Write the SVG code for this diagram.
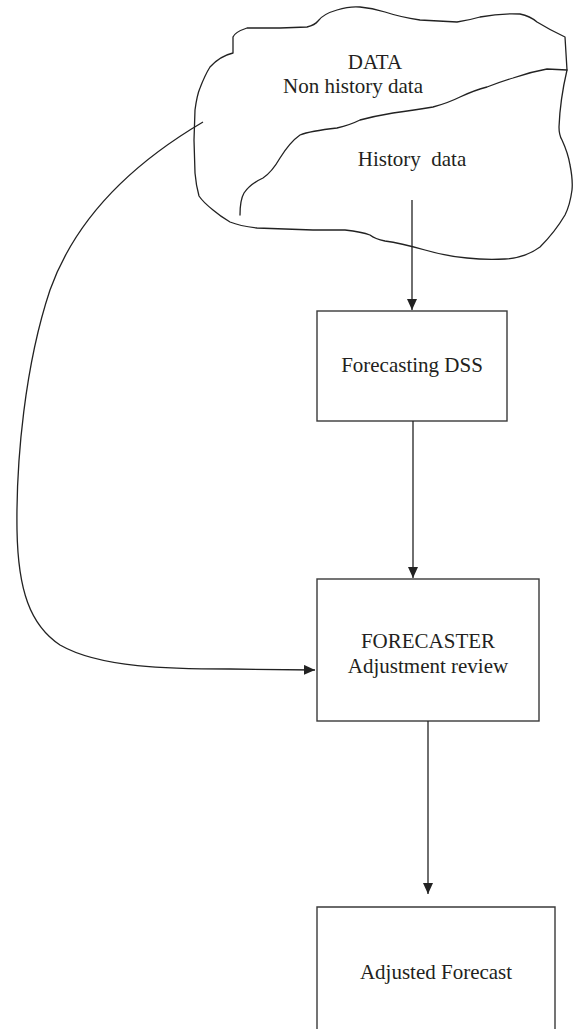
<svg xmlns="http://www.w3.org/2000/svg" width="579" height="1029" viewBox="0 0 579 1029">
<style>
.box{fill:none;stroke:#3a3a3a;stroke-width:1.4}
.cl{fill:none;stroke:#222;stroke-width:1.3;stroke-linejoin:round;stroke-linecap:round}
.ln{fill:none;stroke:#222;stroke-width:1.3}
text{font-family:"Liberation Serif","Times New Roman",serif;font-size:21px;fill:#231f20;text-anchor:middle}
</style>
<defs>
<marker id="ah" markerWidth="12" markerHeight="10" refX="11" refY="5" orient="auto" markerUnits="userSpaceOnUse">
<path d="M0,0 L11,5 L0,10 Z" fill="#222"/>
</marker>
</defs>
<g id="data">
<path class="cl" d="M233,53 L233,37 Q235,32 247,28 L280,28 L307,27 Q315,25 318,21 Q323,14 337,10 Q350,6 360,7 Q372,8 385,12 Q400,17 420,20 L457,22 Q470,20 480,17 Q500,13 520,14 Q530,16 537,22 Q550,30 565,37 L567,70 Q560,100 559,127 Q559,135 562,140 Q568,153 570,165 Q573,180 572,190 Q570,205 565,215 Q555,232 540,247 Q525,258 505,259 Q485,260 467,258 Q445,256 425,250 Q400,243 385,241 Q375,239 370,235 Q362,232 345,230 L313,230 L257,228 Q240,226 230,222 Q220,216 213,210 Q203,202 199,196 Q196,185 195,173 L194,140 L195,110 Q197,95 200,88 Q205,75 210,67 Q220,56 233,53 Z"/>
<path class="cl" d="M240,215 Q240,200 244,193 Q250,184 263,178 Q272,172 280,158 Q290,142 300,135 Q310,131 337,128 Q350,125 360,120 Q375,116 393,113 Q415,110 433,107 Q448,103 460,97 Q475,90 487,87 Q500,82 513,78 Q530,72 547,69 L567,70"/>
<text x="375" y="69">DATA</text>
<text x="353" y="93">Non history data</text>
<text x="412" y="166" xml:space="preserve">History  data</text>
</g>
<g id="dss">
<rect class="box" x="317" y="311" width="190" height="110"/>
<text x="412" y="372">Forecasting DSS</text>
</g>
<g id="forecaster">
<rect class="box" x="317" y="579" width="222" height="142"/>
<text x="428" y="648">FORECASTER</text>
<text x="428" y="673">Adjustment review</text>
</g>
<g id="adjusted">
<path class="box" d="M317,1029 L317,907 L555,907 L555,1029"/>
<text x="436" y="979">Adjusted Forecast</text>
</g>
<g id="connectors">
<path class="ln" d="M412,200 L412,310" marker-end="url(#ah)"/>
<path class="ln" d="M413,421 L413,578" marker-end="url(#ah)"/>
<path class="ln" d="M428,721 L428,894" marker-end="url(#ah)"/>
<path class="ln" d="M203,122 C130,165 75,220 50,290 C25,365 16,460 17,530 C18,590 30,625 60,645 C100,668 170,669 230,669 L315,670" marker-end="url(#ah)"/>
</g>
</svg>
